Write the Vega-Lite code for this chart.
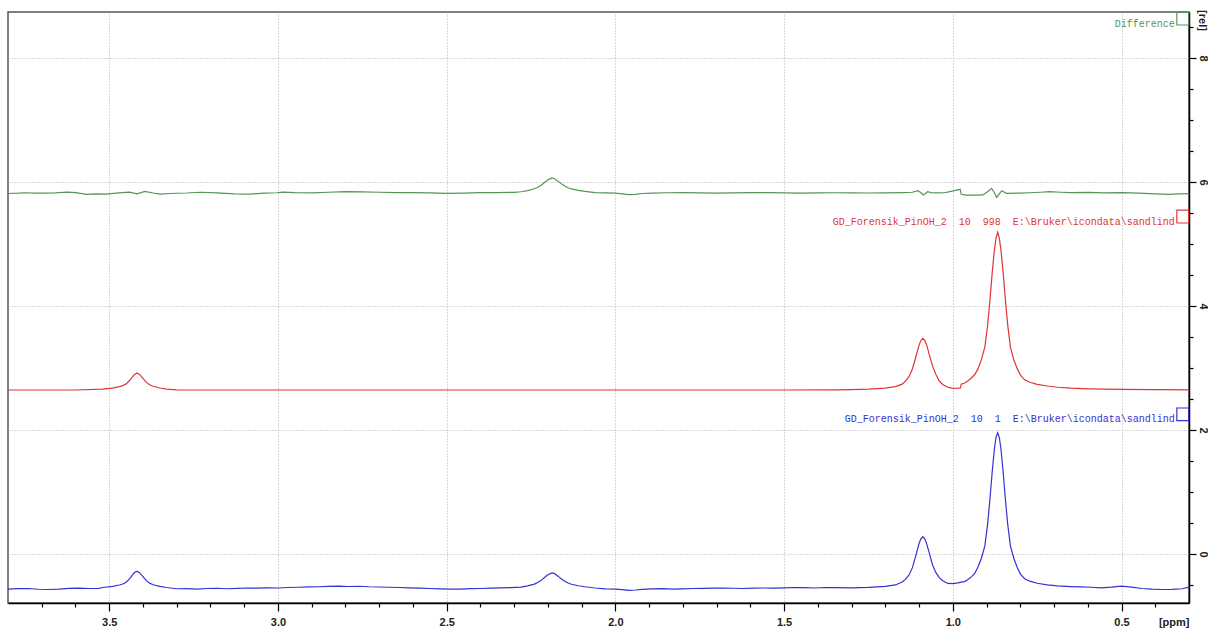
{
  "$schema": "https://vega.github.io/schema/vega-lite/v6.json",
  "width": 1181,
  "height": 591,
  "autosize": {"type": "none"},
  "padding": {"left": 8, "top": 12, "right": 19, "bottom": 27},
  "background": "white",
  "config": {
    "view": {"stroke": "#555555", "strokeWidth": 1.5},
    "axis": {"domainColor": "#000000", "domainWidth": 1.5, "tickColor": "#000000", "tickWidth": 1.2}
  },
  "datasets": {
    "spectra": [
      {"trace": "1", "ppm": 3.80, "rel": -0.565}, {"trace": "1", "ppm": 3.77, "rel": -0.558}, {"trace": "1", "ppm": 3.74, "rel": -0.556},
      {"trace": "1", "ppm": 3.71, "rel": -0.568}, {"trace": "1", "ppm": 3.68, "rel": -0.572}, {"trace": "1", "ppm": 3.65, "rel": -0.565},
      {"trace": "1", "ppm": 3.62, "rel": -0.553}, {"trace": "1", "ppm": 3.59, "rel": -0.550}, {"trace": "1", "ppm": 3.56, "rel": -0.556},
      {"trace": "1", "ppm": 3.53, "rel": -0.553}, {"trace": "1", "ppm": 3.52, "rel": -0.540}, {"trace": "1", "ppm": 3.49, "rel": -0.523},
      {"trace": "1", "ppm": 3.47, "rel": -0.500}, {"trace": "1", "ppm": 3.46, "rel": -0.483}, {"trace": "1", "ppm": 3.45, "rel": -0.455},
      {"trace": "1", "ppm": 3.44, "rel": -0.400}, {"trace": "1", "ppm": 3.435, "rel": -0.370}, {"trace": "1", "ppm": 3.43, "rel": -0.330},
      {"trace": "1", "ppm": 3.425, "rel": -0.298}, {"trace": "1", "ppm": 3.418, "rel": -0.276}, {"trace": "1", "ppm": 3.41, "rel": -0.300},
      {"trace": "1", "ppm": 3.40, "rel": -0.365}, {"trace": "1", "ppm": 3.39, "rel": -0.430}, {"trace": "1", "ppm": 3.38, "rel": -0.470},
      {"trace": "1", "ppm": 3.37, "rel": -0.495}, {"trace": "1", "ppm": 3.35, "rel": -0.522}, {"trace": "1", "ppm": 3.33, "rel": -0.540},
      {"trace": "1", "ppm": 3.30, "rel": -0.560}, {"trace": "1", "ppm": 3.27, "rel": -0.558}, {"trace": "1", "ppm": 3.24, "rel": -0.565},
      {"trace": "1", "ppm": 3.21, "rel": -0.556}, {"trace": "1", "ppm": 3.18, "rel": -0.552}, {"trace": "1", "ppm": 3.15, "rel": -0.560},
      {"trace": "1", "ppm": 3.12, "rel": -0.555}, {"trace": "1", "ppm": 3.09, "rel": -0.548}, {"trace": "1", "ppm": 3.06, "rel": -0.550},
      {"trace": "1", "ppm": 3.03, "rel": -0.545}, {"trace": "1", "ppm": 3.00, "rel": -0.548}, {"trace": "1", "ppm": 2.97, "rel": -0.540},
      {"trace": "1", "ppm": 2.94, "rel": -0.536}, {"trace": "1", "ppm": 2.91, "rel": -0.530}, {"trace": "1", "ppm": 2.88, "rel": -0.528},
      {"trace": "1", "ppm": 2.85, "rel": -0.522}, {"trace": "1", "ppm": 2.82, "rel": -0.518}, {"trace": "1", "ppm": 2.79, "rel": -0.524},
      {"trace": "1", "ppm": 2.76, "rel": -0.520}, {"trace": "1", "ppm": 2.73, "rel": -0.528}, {"trace": "1", "ppm": 2.70, "rel": -0.532},
      {"trace": "1", "ppm": 2.67, "rel": -0.536}, {"trace": "1", "ppm": 2.64, "rel": -0.540}, {"trace": "1", "ppm": 2.61, "rel": -0.545},
      {"trace": "1", "ppm": 2.58, "rel": -0.550}, {"trace": "1", "ppm": 2.55, "rel": -0.556}, {"trace": "1", "ppm": 2.52, "rel": -0.562},
      {"trace": "1", "ppm": 2.49, "rel": -0.566}, {"trace": "1", "ppm": 2.46, "rel": -0.565}, {"trace": "1", "ppm": 2.43, "rel": -0.558},
      {"trace": "1", "ppm": 2.40, "rel": -0.556}, {"trace": "1", "ppm": 2.37, "rel": -0.550}, {"trace": "1", "ppm": 2.34, "rel": -0.545},
      {"trace": "1", "ppm": 2.31, "rel": -0.542}, {"trace": "1", "ppm": 2.28, "rel": -0.535}, {"trace": "1", "ppm": 2.26, "rel": -0.515},
      {"trace": "1", "ppm": 2.24, "rel": -0.485}, {"trace": "1", "ppm": 2.23, "rel": -0.460}, {"trace": "1", "ppm": 2.22, "rel": -0.425},
      {"trace": "1", "ppm": 2.21, "rel": -0.380}, {"trace": "1", "ppm": 2.20, "rel": -0.335}, {"trace": "1", "ppm": 2.188, "rel": -0.305},
      {"trace": "1", "ppm": 2.18, "rel": -0.317}, {"trace": "1", "ppm": 2.17, "rel": -0.357}, {"trace": "1", "ppm": 2.16, "rel": -0.403},
      {"trace": "1", "ppm": 2.15, "rel": -0.440}, {"trace": "1", "ppm": 2.14, "rel": -0.468}, {"trace": "1", "ppm": 2.13, "rel": -0.488},
      {"trace": "1", "ppm": 2.11, "rel": -0.512}, {"trace": "1", "ppm": 2.09, "rel": -0.528}, {"trace": "1", "ppm": 2.06, "rel": -0.548},
      {"trace": "1", "ppm": 2.03, "rel": -0.562}, {"trace": "1", "ppm": 2.00, "rel": -0.565}, {"trace": "1", "ppm": 1.98, "rel": -0.575},
      {"trace": "1", "ppm": 1.96, "rel": -0.585}, {"trace": "1", "ppm": 1.94, "rel": -0.580}, {"trace": "1", "ppm": 1.92, "rel": -0.570},
      {"trace": "1", "ppm": 1.89, "rel": -0.562}, {"trace": "1", "ppm": 1.86, "rel": -0.558}, {"trace": "1", "ppm": 1.83, "rel": -0.565},
      {"trace": "1", "ppm": 1.80, "rel": -0.562}, {"trace": "1", "ppm": 1.77, "rel": -0.556}, {"trace": "1", "ppm": 1.74, "rel": -0.553},
      {"trace": "1", "ppm": 1.71, "rel": -0.550}, {"trace": "1", "ppm": 1.68, "rel": -0.548}, {"trace": "1", "ppm": 1.65, "rel": -0.552},
      {"trace": "1", "ppm": 1.62, "rel": -0.556}, {"trace": "1", "ppm": 1.59, "rel": -0.550}, {"trace": "1", "ppm": 1.56, "rel": -0.548},
      {"trace": "1", "ppm": 1.53, "rel": -0.550}, {"trace": "1", "ppm": 1.50, "rel": -0.545}, {"trace": "1", "ppm": 1.47, "rel": -0.540},
      {"trace": "1", "ppm": 1.44, "rel": -0.543}, {"trace": "1", "ppm": 1.41, "rel": -0.548}, {"trace": "1", "ppm": 1.38, "rel": -0.540},
      {"trace": "1", "ppm": 1.35, "rel": -0.542}, {"trace": "1", "ppm": 1.30, "rel": -0.545}, {"trace": "1", "ppm": 1.25, "rel": -0.538},
      {"trace": "1", "ppm": 1.20, "rel": -0.523}, {"trace": "1", "ppm": 1.17, "rel": -0.499}, {"trace": "1", "ppm": 1.15, "rel": -0.452},
      {"trace": "1", "ppm": 1.14, "rel": -0.406}, {"trace": "1", "ppm": 1.13, "rel": -0.342}, {"trace": "1", "ppm": 1.12, "rel": -0.224},
      {"trace": "1", "ppm": 1.11, "rel": -0.033}, {"trace": "1", "ppm": 1.10, "rel": 0.170}, {"trace": "1", "ppm": 1.095, "rel": 0.241},
      {"trace": "1", "ppm": 1.089, "rel": 0.281}, {"trace": "1", "ppm": 1.083, "rel": 0.245}, {"trace": "1", "ppm": 1.078, "rel": 0.176},
      {"trace": "1", "ppm": 1.07, "rel": 0.022}, {"trace": "1", "ppm": 1.06, "rel": -0.176}, {"trace": "1", "ppm": 1.05, "rel": -0.301},
      {"trace": "1", "ppm": 1.04, "rel": -0.380}, {"trace": "1", "ppm": 1.03, "rel": -0.430}, {"trace": "1", "ppm": 1.015, "rel": -0.475},
      {"trace": "1", "ppm": 1.00, "rel": -0.478}, {"trace": "1", "ppm": 0.985, "rel": -0.465}, {"trace": "1", "ppm": 0.975, "rel": -0.452},
      {"trace": "1", "ppm": 0.965, "rel": -0.445}, {"trace": "1", "ppm": 0.955, "rel": -0.410}, {"trace": "1", "ppm": 0.945, "rel": -0.369},
      {"trace": "1", "ppm": 0.935, "rel": -0.313}, {"trace": "1", "ppm": 0.925, "rel": -0.205}, {"trace": "1", "ppm": 0.915, "rel": -0.064},
      {"trace": "1", "ppm": 0.905, "rel": 0.131}, {"trace": "1", "ppm": 0.897, "rel": 0.473}, {"trace": "1", "ppm": 0.89, "rel": 0.880},
      {"trace": "1", "ppm": 0.883, "rel": 1.338}, {"trace": "1", "ppm": 0.877, "rel": 1.680}, {"trace": "1", "ppm": 0.872, "rel": 1.881},
      {"trace": "1", "ppm": 0.867, "rel": 1.956}, {"trace": "1", "ppm": 0.862, "rel": 1.879}, {"trace": "1", "ppm": 0.857, "rel": 1.678},
      {"trace": "1", "ppm": 0.851, "rel": 1.335}, {"trace": "1", "ppm": 0.844, "rel": 0.875}, {"trace": "1", "ppm": 0.837, "rel": 0.467},
      {"trace": "1", "ppm": 0.829, "rel": 0.123}, {"trace": "1", "ppm": 0.819, "rel": -0.073}, {"trace": "1", "ppm": 0.809, "rel": -0.218},
      {"trace": "1", "ppm": 0.799, "rel": -0.328}, {"trace": "1", "ppm": 0.787, "rel": -0.398}, {"trace": "1", "ppm": 0.772, "rel": -0.438},
      {"trace": "1", "ppm": 0.75, "rel": -0.472}, {"trace": "1", "ppm": 0.72, "rel": -0.497}, {"trace": "1", "ppm": 0.69, "rel": -0.515},
      {"trace": "1", "ppm": 0.65, "rel": -0.525}, {"trace": "1", "ppm": 0.62, "rel": -0.530}, {"trace": "1", "ppm": 0.59, "rel": -0.536},
      {"trace": "1", "ppm": 0.56, "rel": -0.545}, {"trace": "1", "ppm": 0.53, "rel": -0.535}, {"trace": "1", "ppm": 0.50, "rel": -0.518},
      {"trace": "1", "ppm": 0.47, "rel": -0.535}, {"trace": "1", "ppm": 0.44, "rel": -0.556}, {"trace": "1", "ppm": 0.41, "rel": -0.566},
      {"trace": "1", "ppm": 0.38, "rel": -0.572}, {"trace": "1", "ppm": 0.35, "rel": -0.570}, {"trace": "1", "ppm": 0.32, "rel": -0.560},
      {"trace": "1", "ppm": 0.30, "rel": -0.535},

      {"trace": "998", "ppm": 3.80, "rel": 2.645}, {"trace": "998", "ppm": 3.60, "rel": 2.645}, {"trace": "998", "ppm": 3.52, "rel": 2.661},
      {"trace": "998", "ppm": 3.49, "rel": 2.677}, {"trace": "998", "ppm": 3.47, "rel": 2.700}, {"trace": "998", "ppm": 3.46, "rel": 2.716},
      {"trace": "998", "ppm": 3.45, "rel": 2.744}, {"trace": "998", "ppm": 3.44, "rel": 2.798}, {"trace": "998", "ppm": 3.435, "rel": 2.827},
      {"trace": "998", "ppm": 3.43, "rel": 2.866}, {"trace": "998", "ppm": 3.425, "rel": 2.897}, {"trace": "998", "ppm": 3.418, "rel": 2.919},
      {"trace": "998", "ppm": 3.41, "rel": 2.896}, {"trace": "998", "ppm": 3.40, "rel": 2.832}, {"trace": "998", "ppm": 3.39, "rel": 2.768},
      {"trace": "998", "ppm": 3.38, "rel": 2.729}, {"trace": "998", "ppm": 3.37, "rel": 2.705}, {"trace": "998", "ppm": 3.35, "rel": 2.678},
      {"trace": "998", "ppm": 3.33, "rel": 2.661}, {"trace": "998", "ppm": 3.30, "rel": 2.648}, {"trace": "998", "ppm": 3.00, "rel": 2.645},
      {"trace": "998", "ppm": 2.50, "rel": 2.645}, {"trace": "998", "ppm": 2.00, "rel": 2.645}, {"trace": "998", "ppm": 1.50, "rel": 2.645},
      {"trace": "998", "ppm": 1.35, "rel": 2.648}, {"trace": "998", "ppm": 1.30, "rel": 2.652}, {"trace": "998", "ppm": 1.25, "rel": 2.660},
      {"trace": "998", "ppm": 1.20, "rel": 2.675}, {"trace": "998", "ppm": 1.17, "rel": 2.700}, {"trace": "998", "ppm": 1.15, "rel": 2.740},
      {"trace": "998", "ppm": 1.14, "rel": 2.790}, {"trace": "998", "ppm": 1.13, "rel": 2.860}, {"trace": "998", "ppm": 1.12, "rel": 2.980},
      {"trace": "998", "ppm": 1.11, "rel": 3.170}, {"trace": "998", "ppm": 1.10, "rel": 3.370}, {"trace": "998", "ppm": 1.095, "rel": 3.440},
      {"trace": "998", "ppm": 1.089, "rel": 3.479}, {"trace": "998", "ppm": 1.083, "rel": 3.445}, {"trace": "998", "ppm": 1.078, "rel": 3.380},
      {"trace": "998", "ppm": 1.07, "rel": 3.225}, {"trace": "998", "ppm": 1.06, "rel": 3.030}, {"trace": "998", "ppm": 1.05, "rel": 2.895},
      {"trace": "998", "ppm": 1.04, "rel": 2.790}, {"trace": "998", "ppm": 1.03, "rel": 2.735}, {"trace": "998", "ppm": 1.015, "rel": 2.690},
      {"trace": "998", "ppm": 1.00, "rel": 2.673}, {"trace": "998", "ppm": 0.985, "rel": 2.676}, {"trace": "998", "ppm": 0.977, "rel": 2.680},
      {"trace": "998", "ppm": 0.975, "rel": 2.740}, {"trace": "998", "ppm": 0.965, "rel": 2.758}, {"trace": "998", "ppm": 0.955, "rel": 2.795},
      {"trace": "998", "ppm": 0.945, "rel": 2.840}, {"trace": "998", "ppm": 0.935, "rel": 2.895}, {"trace": "998", "ppm": 0.925, "rel": 2.990},
      {"trace": "998", "ppm": 0.915, "rel": 3.140}, {"trace": "998", "ppm": 0.905, "rel": 3.340}, {"trace": "998", "ppm": 0.897, "rel": 3.680},
      {"trace": "998", "ppm": 0.89, "rel": 4.090}, {"trace": "998", "ppm": 0.883, "rel": 4.550}, {"trace": "998", "ppm": 0.877, "rel": 4.890},
      {"trace": "998", "ppm": 0.872, "rel": 5.090}, {"trace": "998", "ppm": 0.867, "rel": 5.189}, {"trace": "998", "ppm": 0.862, "rel": 5.090},
      {"trace": "998", "ppm": 0.857, "rel": 4.890}, {"trace": "998", "ppm": 0.851, "rel": 4.550}, {"trace": "998", "ppm": 0.844, "rel": 4.090},
      {"trace": "998", "ppm": 0.837, "rel": 3.680}, {"trace": "998", "ppm": 0.829, "rel": 3.330}, {"trace": "998", "ppm": 0.819, "rel": 3.130},
      {"trace": "998", "ppm": 0.809, "rel": 2.990}, {"trace": "998", "ppm": 0.799, "rel": 2.880}, {"trace": "998", "ppm": 0.787, "rel": 2.810},
      {"trace": "998", "ppm": 0.772, "rel": 2.770}, {"trace": "998", "ppm": 0.75, "rel": 2.735}, {"trace": "998", "ppm": 0.72, "rel": 2.710},
      {"trace": "998", "ppm": 0.69, "rel": 2.690}, {"trace": "998", "ppm": 0.65, "rel": 2.675}, {"trace": "998", "ppm": 0.60, "rel": 2.665},
      {"trace": "998", "ppm": 0.50, "rel": 2.655}, {"trace": "998", "ppm": 0.40, "rel": 2.650}, {"trace": "998", "ppm": 0.30, "rel": 2.648},

      {"trace": "Difference", "ppm": 3.80, "rel": 5.815}, {"trace": "Difference", "ppm": 3.77, "rel": 5.820}, {"trace": "Difference", "ppm": 3.75, "rel": 5.827},
      {"trace": "Difference", "ppm": 3.72, "rel": 5.820}, {"trace": "Difference", "ppm": 3.69, "rel": 5.820}, {"trace": "Difference", "ppm": 3.66, "rel": 5.825},
      {"trace": "Difference", "ppm": 3.625, "rel": 5.838}, {"trace": "Difference", "ppm": 3.60, "rel": 5.830}, {"trace": "Difference", "ppm": 3.566, "rel": 5.800},
      {"trace": "Difference", "ppm": 3.54, "rel": 5.810}, {"trace": "Difference", "ppm": 3.507, "rel": 5.805}, {"trace": "Difference", "ppm": 3.48, "rel": 5.820},
      {"trace": "Difference", "ppm": 3.46, "rel": 5.828}, {"trace": "Difference", "ppm": 3.44, "rel": 5.838}, {"trace": "Difference", "ppm": 3.418, "rel": 5.810},
      {"trace": "Difference", "ppm": 3.394, "rel": 5.850}, {"trace": "Difference", "ppm": 3.37, "rel": 5.823}, {"trace": "Difference", "ppm": 3.35, "rel": 5.805},
      {"trace": "Difference", "ppm": 3.32, "rel": 5.815}, {"trace": "Difference", "ppm": 3.27, "rel": 5.823}, {"trace": "Difference", "ppm": 3.23, "rel": 5.835},
      {"trace": "Difference", "ppm": 3.18, "rel": 5.825}, {"trace": "Difference", "ppm": 3.13, "rel": 5.810}, {"trace": "Difference", "ppm": 3.083, "rel": 5.805},
      {"trace": "Difference", "ppm": 3.04, "rel": 5.820}, {"trace": "Difference", "ppm": 3.003, "rel": 5.827}, {"trace": "Difference", "ppm": 2.985, "rel": 5.838},
      {"trace": "Difference", "ppm": 2.95, "rel": 5.828}, {"trace": "Difference", "ppm": 2.90, "rel": 5.825}, {"trace": "Difference", "ppm": 2.85, "rel": 5.835},
      {"trace": "Difference", "ppm": 2.80, "rel": 5.845}, {"trace": "Difference", "ppm": 2.75, "rel": 5.840}, {"trace": "Difference", "ppm": 2.70, "rel": 5.835},
      {"trace": "Difference", "ppm": 2.65, "rel": 5.828}, {"trace": "Difference", "ppm": 2.60, "rel": 5.830}, {"trace": "Difference", "ppm": 2.55, "rel": 5.825},
      {"trace": "Difference", "ppm": 2.50, "rel": 5.818}, {"trace": "Difference", "ppm": 2.45, "rel": 5.822}, {"trace": "Difference", "ppm": 2.40, "rel": 5.828},
      {"trace": "Difference", "ppm": 2.35, "rel": 5.830}, {"trace": "Difference", "ppm": 2.30, "rel": 5.832}, {"trace": "Difference", "ppm": 2.28, "rel": 5.843},
      {"trace": "Difference", "ppm": 2.26, "rel": 5.862}, {"trace": "Difference", "ppm": 2.24, "rel": 5.891}, {"trace": "Difference", "ppm": 2.23, "rel": 5.915},
      {"trace": "Difference", "ppm": 2.22, "rel": 5.948}, {"trace": "Difference", "ppm": 2.21, "rel": 5.991}, {"trace": "Difference", "ppm": 2.20, "rel": 6.035},
      {"trace": "Difference", "ppm": 2.188, "rel": 6.065}, {"trace": "Difference", "ppm": 2.18, "rel": 6.052}, {"trace": "Difference", "ppm": 2.17, "rel": 6.014},
      {"trace": "Difference", "ppm": 2.16, "rel": 5.970}, {"trace": "Difference", "ppm": 2.15, "rel": 5.934}, {"trace": "Difference", "ppm": 2.14, "rel": 5.907},
      {"trace": "Difference", "ppm": 2.13, "rel": 5.888}, {"trace": "Difference", "ppm": 2.11, "rel": 5.865}, {"trace": "Difference", "ppm": 2.09, "rel": 5.849},
      {"trace": "Difference", "ppm": 2.06, "rel": 5.830}, {"trace": "Difference", "ppm": 2.03, "rel": 5.825}, {"trace": "Difference", "ppm": 2.00, "rel": 5.820},
      {"trace": "Difference", "ppm": 1.98, "rel": 5.810}, {"trace": "Difference", "ppm": 1.96, "rel": 5.795}, {"trace": "Difference", "ppm": 1.94, "rel": 5.800},
      {"trace": "Difference", "ppm": 1.92, "rel": 5.815}, {"trace": "Difference", "ppm": 1.89, "rel": 5.822}, {"trace": "Difference", "ppm": 1.85, "rel": 5.827},
      {"trace": "Difference", "ppm": 1.80, "rel": 5.830}, {"trace": "Difference", "ppm": 1.75, "rel": 5.825}, {"trace": "Difference", "ppm": 1.70, "rel": 5.822},
      {"trace": "Difference", "ppm": 1.65, "rel": 5.825}, {"trace": "Difference", "ppm": 1.60, "rel": 5.830}, {"trace": "Difference", "ppm": 1.55, "rel": 5.828},
      {"trace": "Difference", "ppm": 1.50, "rel": 5.825}, {"trace": "Difference", "ppm": 1.45, "rel": 5.822}, {"trace": "Difference", "ppm": 1.40, "rel": 5.825},
      {"trace": "Difference", "ppm": 1.35, "rel": 5.827}, {"trace": "Difference", "ppm": 1.30, "rel": 5.825}, {"trace": "Difference", "ppm": 1.25, "rel": 5.823},
      {"trace": "Difference", "ppm": 1.20, "rel": 5.825}, {"trace": "Difference", "ppm": 1.15, "rel": 5.830}, {"trace": "Difference", "ppm": 1.12, "rel": 5.835},
      {"trace": "Difference", "ppm": 1.104, "rel": 5.860}, {"trace": "Difference", "ppm": 1.095, "rel": 5.830}, {"trace": "Difference", "ppm": 1.088, "rel": 5.790},
      {"trace": "Difference", "ppm": 1.08, "rel": 5.820}, {"trace": "Difference", "ppm": 1.075, "rel": 5.844}, {"trace": "Difference", "ppm": 1.065, "rel": 5.830},
      {"trace": "Difference", "ppm": 1.05, "rel": 5.825}, {"trace": "Difference", "ppm": 1.024, "rel": 5.827}, {"trace": "Difference", "ppm": 1.009, "rel": 5.844},
      {"trace": "Difference", "ppm": 0.995, "rel": 5.860}, {"trace": "Difference", "ppm": 0.978, "rel": 5.882}, {"trace": "Difference", "ppm": 0.975, "rel": 5.802},
      {"trace": "Difference", "ppm": 0.96, "rel": 5.790}, {"trace": "Difference", "ppm": 0.93, "rel": 5.790}, {"trace": "Difference", "ppm": 0.911, "rel": 5.792},
      {"trace": "Difference", "ppm": 0.895, "rel": 5.850}, {"trace": "Difference", "ppm": 0.885, "rel": 5.898}, {"trace": "Difference", "ppm": 0.878, "rel": 5.840},
      {"trace": "Difference", "ppm": 0.870, "rel": 5.753}, {"trace": "Difference", "ppm": 0.862, "rel": 5.810}, {"trace": "Difference", "ppm": 0.855, "rel": 5.860},
      {"trace": "Difference", "ppm": 0.848, "rel": 5.840}, {"trace": "Difference", "ppm": 0.841, "rel": 5.818}, {"trace": "Difference", "ppm": 0.80, "rel": 5.822},
      {"trace": "Difference", "ppm": 0.772, "rel": 5.827}, {"trace": "Difference", "ppm": 0.74, "rel": 5.835}, {"trace": "Difference", "ppm": 0.713, "rel": 5.844},
      {"trace": "Difference", "ppm": 0.68, "rel": 5.835}, {"trace": "Difference", "ppm": 0.65, "rel": 5.830}, {"trace": "Difference", "ppm": 0.60, "rel": 5.832},
      {"trace": "Difference", "ppm": 0.55, "rel": 5.825}, {"trace": "Difference", "ppm": 0.50, "rel": 5.830}, {"trace": "Difference", "ppm": 0.45, "rel": 5.820},
      {"trace": "Difference", "ppm": 0.40, "rel": 5.810}, {"trace": "Difference", "ppm": 0.36, "rel": 5.800}, {"trace": "Difference", "ppm": 0.33, "rel": 5.808},
      {"trace": "Difference", "ppm": 0.30, "rel": 5.812}
    ],
    "labels": [
      {"trace": "Difference", "ppm": 0.342, "rel": 8.505, "text": "Difference"},
      {"trace": "998", "ppm": 0.342, "rel": 5.306, "text": "GD_Forensik_PinOH_2\u00a0\u00a010\u00a0\u00a0998\u00a0\u00a0E:\\Bruker\\icondata\\sandlind"},
      {"trace": "1", "ppm": 0.342, "rel": 2.134, "text": "GD_Forensik_PinOH_2\u00a0\u00a010\u00a0\u00a01\u00a0\u00a0E:\\Bruker\\icondata\\sandlind"}
    ],
    "boxes": [
      {"trace": "Difference", "ppm": 0.336, "ppm2": 0.301, "rel": 8.742, "rel2": 8.532},
      {"trace": "998", "ppm": 0.336, "ppm2": 0.301, "rel": 5.548, "rel2": 5.339},
      {"trace": "1", "ppm": 0.336, "ppm2": 0.301, "rel": 2.355, "rel2": 2.153}
    ]
  },
  "encoding": {
    "x": {
      "field": "ppm", "type": "quantitative",
      "scale": {"domain": [0.3, 3.8], "reverse": true, "nice": false, "zero": false},
      "axis": {
        "orient": "bottom",
        "values": [0.4, 0.5, 0.6, 0.7, 0.8, 0.9, 1.0, 1.1, 1.2, 1.3, 1.4, 1.5, 1.6, 1.7, 1.8, 1.9, 2.0, 2.1, 2.2, 2.3, 2.4, 2.5, 2.6, 2.7, 2.8, 2.9, 3.0, 3.1, 3.2, 3.3, 3.4, 3.5, 3.6, 3.7],
        "labelExpr": "abs(datum.value * 2 - round(datum.value * 2)) < 0.001 ? format(datum.value, '.1f') : ''",
        "tickSize": {"condition": {"test": "abs(datum.value * 2 - round(datum.value * 2)) < 0.001", "value": 8}, "value": 4},
        "grid": true,
        "gridColor": "#b0b0b0",
        "gridDash": [1, 2],
        "gridWidth": 1,
        "gridOpacity": {"condition": {"test": "abs(datum.value * 2 - round(datum.value * 2)) < 0.001", "value": 1}, "value": 0},
        "labelFont": "Liberation Sans", "labelFontWeight": "bold", "labelFontSize": 11, "labelColor": "#222222",
        "labelPadding": 5, "labelFlush": false, "labelOverlap": false,
        "title": "[ppm]", "titleFont": "Liberation Sans", "titleFontWeight": "bold", "titleFontSize": 11, "titleColor": "#222222",
        "titleAnchor": "start", "titleAlign": "right", "titleBaseline": "alphabetic", "titleY": 22
      }
    },
    "y": {
      "field": "rel", "type": "quantitative",
      "scale": {"domain": [-0.79, 8.742], "nice": false, "zero": false},
      "axis": {
        "orient": "right",
        "values": [-0.5, 0, 0.5, 1, 1.5, 2, 2.5, 3, 3.5, 4, 4.5, 5, 5.5, 6, 6.5, 7, 7.5, 8, 8.5],
        "labelExpr": "abs(datum.value / 2 - round(datum.value / 2)) < 0.001 ? format(datum.value, 'd') : ''",
        "tickSize": {"condition": {"test": "abs(datum.value / 2 - round(datum.value / 2)) < 0.001", "value": 7}, "value": 4},
        "grid": true,
        "gridColor": "#b0b0b0",
        "gridDash": [1, 2],
        "gridWidth": 1,
        "gridOpacity": {"condition": {"test": "abs(datum.value / 2 - round(datum.value / 2)) < 0.001", "value": 1}, "value": 0},
        "labelFont": "Liberation Sans", "labelFontWeight": "bold", "labelFontSize": 11, "labelColor": "#222222",
        "labelAngle": 90, "labelAlign": "center", "labelBaseline": "middle", "labelPadding": 6,
        "labelFlush": false, "labelOverlap": false,
        "title": "[rel]", "titleFont": "Liberation Sans", "titleFontWeight": "bold", "titleFontSize": 11, "titleColor": "#222222",
        "titleAngle": 90, "titleAnchor": "end", "titleAlign": "center", "titleBaseline": "middle", "titleX": 12, "titleY": 8
      }
    },
    "color": {
      "field": "trace", "type": "nominal",
      "scale": {"domain": ["Difference", "998", "1"], "range": ["#559555", "#e23434", "#3232d2"]},
      "legend": null
    }
  },
  "layer": [
    {
      "data": {"name": "spectra"},
      "mark": {"type": "line", "strokeWidth": 1.2, "interpolate": "linear"}
    },
    {
      "data": {"name": "labels"},
      "mark": {"type": "text", "font": "Liberation Mono", "fontSize": 10, "align": "right", "baseline": "alphabetic"},
      "encoding": {"text": {"field": "text"}}
    },
    {
      "data": {"name": "boxes"},
      "mark": {"type": "rect", "filled": false, "strokeWidth": 1.2},
      "encoding": {"x2": {"field": "ppm2"}, "y2": {"field": "rel2"}}
    }
  ]
}
